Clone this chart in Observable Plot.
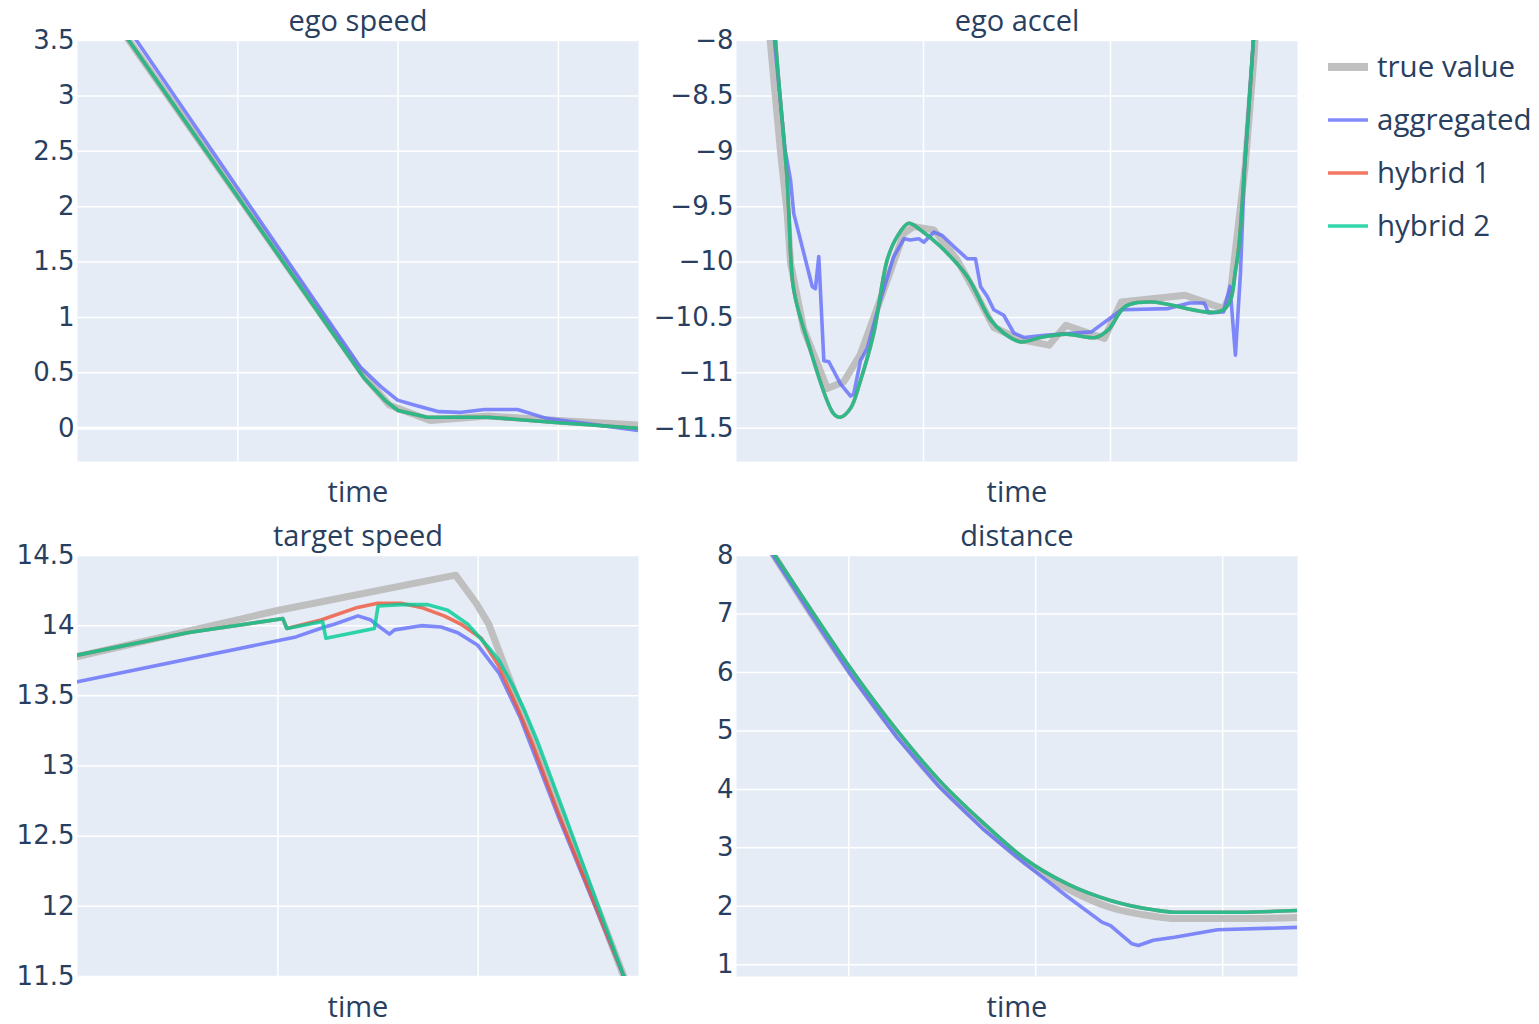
<!DOCTYPE html>
<html>
<head>
<meta charset="utf-8">
<script src="https://cdn.jsdelivr.net/npm/d3@7"></script>
<script src="https://cdn.jsdelivr.net/npm/@observablehq/plot@0.6"></script>
<style>
  html, body { margin: 0; padding: 0; background: #ffffff; }
  #root { position: relative; width: 1539px; height: 1024px; overflow: hidden; font-family: "Open Sans", sans-serif; }
  .panel { position: absolute; }
  .panel svg { display: block; }
</style>
</head>
<body>
<div id="root"></div>
<script>
// ---------------- DATA ----------------
const seriesNames = ["true value", "aggregated", "hybrid 1", "hybrid 2"];
const seriesColors = ["#bdbdbd", "#636efa", "#ef553b", "#00cc96"];

// ego speed  [time, value]
const egoSpeedTrue = [[0.2,3.75],[1.79,0.47],[1.945,0.21],[2.2,0.07],[2.56,0.11],[3.0,0.07],[3.5,0.03]];
const egoSpeedAgg = [[0.25,3.75],[1.763,0.554],[1.894,0.374],[1.997,0.254],[2.10,0.21],[2.255,0.15],[2.384,0.143],[2.539,0.17],[2.745,0.17],[2.926,0.089],[3.5,-0.02]];
const egoSpeedH1 = [[0.2,3.75],[1.79,0.45],[1.92,0.25],[2.0,0.16],[2.18,0.10],[2.56,0.10],[3.0,0.05],[3.5,0.0]];
const egoSpeedH2 = [[0.2,3.75],[1.79,0.45],[1.92,0.25],[2.0,0.16],[2.18,0.10],[2.56,0.10],[3.0,0.05],[3.5,0.0]];

// ego accel
const egoAccelTrue = [[0.16,-7.5],[0.18,-8.0],[0.235,-9.0],[0.271,-9.56],[0.289,-10.01],[0.36,-10.61],[0.485,-11.14],[0.574,-11.08],[0.663,-10.83],[0.788,-10.25],[0.895,-9.74],[0.948,-9.68],[1.055,-9.71],[1.18,-9.98],[1.269,-10.25],[1.376,-10.59],[1.519,-10.70],[1.671,-10.75],[1.762,-10.57],[1.967,-10.69],[2.058,-10.36],[2.399,-10.30],[2.604,-10.42],[2.64,-10.30],[2.72,-9.14],[2.77,-8.09],[2.785,-7.5]];
const egoAccelAgg = [[0.19,-7.5],[0.203,-8.0],[0.26,-8.99],[0.289,-9.26],[0.306,-9.56],[0.378,-10.04],[0.405,-10.22],[0.422,-10.24],[0.44,-9.95],[0.467,-10.89],[0.494,-10.90],[0.556,-11.10],[0.61,-11.21],[0.627,-11.19],[0.663,-10.89],[0.699,-10.78],[0.77,-10.34],[0.841,-9.95],[0.895,-9.79],[0.93,-9.80],[0.975,-9.79],[1.002,-9.82],[1.055,-9.73],[1.10,-9.76],[1.162,-9.86],[1.234,-9.97],[1.278,-9.97],[1.305,-10.22],[1.341,-10.31],[1.376,-10.43],[1.429,-10.48],[1.483,-10.64],[1.536,-10.68],[1.647,-10.66],[1.898,-10.63],[2.059,-10.43],[2.309,-10.42],[2.422,-10.37],[2.502,-10.37],[2.524,-10.46],[2.604,-10.45],[2.639,-10.22],[2.668,-10.84],[2.695,-10.10],[2.717,-9.14],[2.764,-8.0],[2.78,-7.5]];
const egoAccelH1 = [[0.195,-7.5],[0.209,-8.0],[0.271,-9.26],[0.28,-9.56],[0.306,-10.25],[0.378,-10.70],[0.52,-11.37],[0.556,-11.40],[0.61,-11.32],[0.663,-11.07],[0.734,-10.64],[0.806,-9.98],[0.859,-9.77],[0.921,-9.65],[0.984,-9.71],[1.091,-9.86],[1.234,-10.13],[1.358,-10.52],[1.429,-10.64],[1.519,-10.72],[1.626,-10.68],[1.762,-10.65],[1.921,-10.68],[1.989,-10.61],[2.08,-10.40],[2.217,-10.36],[2.604,-10.43],[2.672,-10.04],[2.717,-9.14],[2.764,-8.0],[2.78,-7.5]];
const egoAccelH2 = [[0.195,-7.5],[0.209,-8.0],[0.271,-9.26],[0.28,-9.56],[0.306,-10.25],[0.378,-10.70],[0.52,-11.37],[0.556,-11.40],[0.61,-11.32],[0.663,-11.07],[0.734,-10.64],[0.806,-9.98],[0.859,-9.77],[0.921,-9.65],[0.984,-9.71],[1.091,-9.86],[1.234,-10.13],[1.358,-10.52],[1.429,-10.64],[1.519,-10.72],[1.626,-10.68],[1.762,-10.65],[1.921,-10.68],[1.989,-10.61],[2.08,-10.40],[2.217,-10.36],[2.604,-10.43],[2.672,-10.04],[2.717,-9.14],[2.764,-8.0],[2.78,-7.5]];

// target speed
const targetSpeedTrue = [[-0.02,13.77],[0.0,13.78],[1.005,14.11],[1.887,14.36],[1.99,14.16],[2.053,14.01],[2.135,13.70],[2.727,11.50],[2.8,11.23]];
const targetSpeedAgg = [[-0.02,13.595],[0.0,13.60],[1.09,13.92],[1.233,13.99],[1.282,14.01],[1.40,14.07],[1.465,14.04],[1.49,14.01],[1.557,13.94],[1.582,13.97],[1.715,14.00],[1.815,13.99],[1.898,13.95],[1.998,13.86],[2.105,13.66],[2.208,13.35],[2.40,12.64],[2.727,11.5],[2.8,11.22]];
const targetSpeedH1 = [[-0.02,13.785],[0.0,13.79],[0.548,13.95],[1.025,14.05],[1.045,13.98],[1.215,14.04],[1.398,14.13],[1.498,14.16],[1.615,14.16],[1.715,14.13],[1.83,14.07],[1.915,14.01],[2.015,13.91],[2.10,13.72],[2.20,13.40],[2.27,13.16],[2.395,12.68],[2.727,11.50],[2.8,11.22]];
const targetSpeedH2 = [[-0.02,13.785],[0.0,13.79],[0.548,13.95],[1.025,14.05],[1.045,13.98],[1.223,14.03],[1.24,13.91],[1.482,13.98],[1.50,14.14],[1.615,14.15],[1.748,14.15],[1.848,14.11],[1.948,14.01],[2.048,13.85],[2.105,13.75],[2.17,13.58],[2.23,13.40],[2.30,13.16],[2.425,12.68],[2.727,11.50],[2.8,11.2]];

// distance
const distanceTrue = [[0.55,8.25],[0.60,8.0],[0.80,7.0],[1.0,6.05],[1.25,4.97],[1.48,4.1],[1.715,3.38],[1.943,2.76],[2.172,2.30],[2.40,1.98],[2.629,1.83],[2.742,1.79],[3.084,1.79],[3.405,1.81]];
const distanceAgg = [[0.545,8.25],[0.595,8.0],[0.80,6.98],[1.006,5.98],[1.258,4.89],[1.486,4.04],[1.715,3.33],[1.943,2.73],[2.172,2.16],[2.354,1.73],[2.40,1.67],[2.515,1.36],[2.549,1.33],[2.629,1.42],[2.742,1.47],[2.972,1.60],[3.405,1.64]];
const distanceH1 = [[0.55,8.27],[0.606,8.0],[0.801,7.06],[1.006,6.09],[1.258,5.01],[1.486,4.15],[1.715,3.44],[1.943,2.81],[2.172,2.38],[2.40,2.10],[2.629,1.94],[2.742,1.90],[3.084,1.90],[3.405,1.93]];
const distanceH2 = [[0.55,8.27],[0.606,8.0],[0.801,7.06],[1.006,6.09],[1.258,5.01],[1.486,4.15],[1.715,3.44],[1.943,2.81],[2.172,2.38],[2.40,2.10],[2.629,1.94],[2.742,1.90],[3.084,1.90],[3.405,1.93]];

// axes
const egoSpeedYTicks = [0, 0.5, 1, 1.5, 2, 2.5, 3, 3.5];
const egoAccelYTicks = [-11.5, -11, -10.5, -10, -9.5, -9, -8.5, -8];
const targetSpeedYTicks = [11.5, 12, 12.5, 13, 13.5, 14, 14.5];
const distanceYTicks = [1, 2, 3, 4, 5, 6, 7, 8];
const egoSpeedXTicks = [1, 2, 3];
const egoAccelXTicks = [1, 2];
const targetSpeedXTicks = [1, 2];
const distanceXTicks = [1, 2, 3];
const xLabel = "time";

// ---------------- DRAW ----------------
const TEXT = "#2a3f5f";
const FONT = "'Open Sans', sans-serif";
const TICKFONT = "'DejaVu Sans', sans-serif";
const fmt = d => (d < 0 ? "\u2212" + String(Math.abs(d)) : String(d));

function panel({left, top, width, height, mL, mR, mT, mB, xDomain, yDomain, xTicks, yTicks, title, data, curves, zero}) {
  const styles = [
    {w: 7, o: 0.95},
    {w: 3.6, o: 0.8},
    {w: 3.6, o: 0.8},
    {w: 3.6, o: 0.8}
  ];
  const lineMarks = data.map((d, i) => Plot.line(d, {
    x: p => p[0], y: p => p[1],
    stroke: seriesColors[i], strokeWidth: styles[i].w, strokeOpacity: styles[i].o,
    curve: curves[i], clip: true, strokeLinejoin: "round", strokeLinecap: "butt"
  }));
  const chart = Plot.plot({
    width, height,
    marginLeft: mL, marginRight: mR, marginTop: mT, marginBottom: mB,
    x: {domain: xDomain, axis: null},
    y: {domain: yDomain, axis: null},
    style: {background: "transparent", fontFamily: FONT, color: TEXT, overflow: "visible"},
    marks: [
      Plot.frame({fill: "#e5ecf6", stroke: null}),
      Plot.gridX(xTicks, {stroke: "#ffffff", strokeOpacity: 1, strokeWidth: 1.5}),
      Plot.gridY(yTicks, {stroke: "#ffffff", strokeOpacity: 1, strokeWidth: d => (zero && d === 0 ? 2.8 : 1.5)}),
      Plot.axisY(yTicks, {anchor: "left", tickSize: 0, tickPadding: 3, tickFormat: fmt, fontSize: 26, fontFamily: TICKFONT, fill: TEXT, label: null}),
      ...lineMarks,
      Plot.text([title], {frameAnchor: "top", lineAnchor: "middle", dy: -19, fontSize: 29, fill: TEXT}),
      Plot.text([xLabel], {frameAnchor: "bottom", lineAnchor: "middle", dy: 31, fontSize: 29, fill: TEXT})
    ]
  });
  const div = document.createElement("div");
  div.className = "panel";
  div.style.left = left + "px";
  div.style.top = top + "px";
  div.appendChild(chart);
  document.getElementById("root").appendChild(div);
}

panel({left: 0, top: 0, width: 640, height: 515, mL: 77, mR: 2, mT: 40, mB: 54,
  xDomain: [0, 3.5], yDomain: [-0.3, 3.5], xTicks: egoSpeedXTicks, yTicks: egoSpeedYTicks,
  title: "ego speed", data: [egoSpeedTrue, egoSpeedAgg, egoSpeedH1, egoSpeedH2],
  curves: ["linear", "linear", "linear", "linear"], zero: true});

panel({left: 650, top: 0, width: 650, height: 515, mL: 86, mR: 3, mT: 40, mB: 54,
  xDomain: [0, 3], yDomain: [-11.8, -8], xTicks: egoAccelXTicks, yTicks: egoAccelYTicks,
  title: "ego accel", data: [egoAccelTrue, egoAccelAgg, egoAccelH1, egoAccelH2],
  curves: ["linear", "linear", "catmull-rom", "catmull-rom"]});

panel({left: 0, top: 515, width: 640, height: 509, mL: 77, mR: 2, mT: 40, mB: 48,
  xDomain: [0, 2.8], yDomain: [11.5, 14.5], xTicks: targetSpeedXTicks, yTicks: targetSpeedYTicks,
  title: "target speed", data: [targetSpeedTrue, targetSpeedAgg, targetSpeedH1, targetSpeedH2],
  curves: ["linear", "linear", "linear", "linear"]});

panel({left: 650, top: 515, width: 650, height: 509, mL: 86, mR: 3, mT: 40, mB: 48,
  xDomain: [0.4, 3.4], yDomain: [0.8, 8], xTicks: distanceXTicks, yTicks: distanceYTicks,
  title: "distance", data: [distanceTrue, distanceAgg, distanceH1, distanceH2],
  curves: ["monotone-x", "linear", "monotone-x", "monotone-x"]});

// legend
const legendWidths = [8, 3.6, 3.6, 3.6];
const legendOpac = [0.95, 0.8, 0.8, 0.8];
const lg = d3.create("svg").attr("width", 229).attr("height", 220)
  .style("font-family", FONT);
seriesNames.forEach((name, i) => {
  const y = 27 + i * 53;
  lg.append("line").attr("x1", 18).attr("x2", 58).attr("y1", y).attr("y2", y)
    .attr("stroke", seriesColors[i]).attr("stroke-width", legendWidths[i]).attr("stroke-opacity", legendOpac[i]);
  lg.append("text").attr("x", 67).attr("y", y).attr("dy", "0.35em")
    .attr("fill", TEXT).attr("font-size", 29.5).text(name);
});
const ldiv = document.createElement("div");
ldiv.className = "panel";
ldiv.style.left = "1310px";
ldiv.style.top = "40px";
ldiv.appendChild(lg.node());
document.getElementById("root").appendChild(ldiv);
</script>
</body>
</html>
